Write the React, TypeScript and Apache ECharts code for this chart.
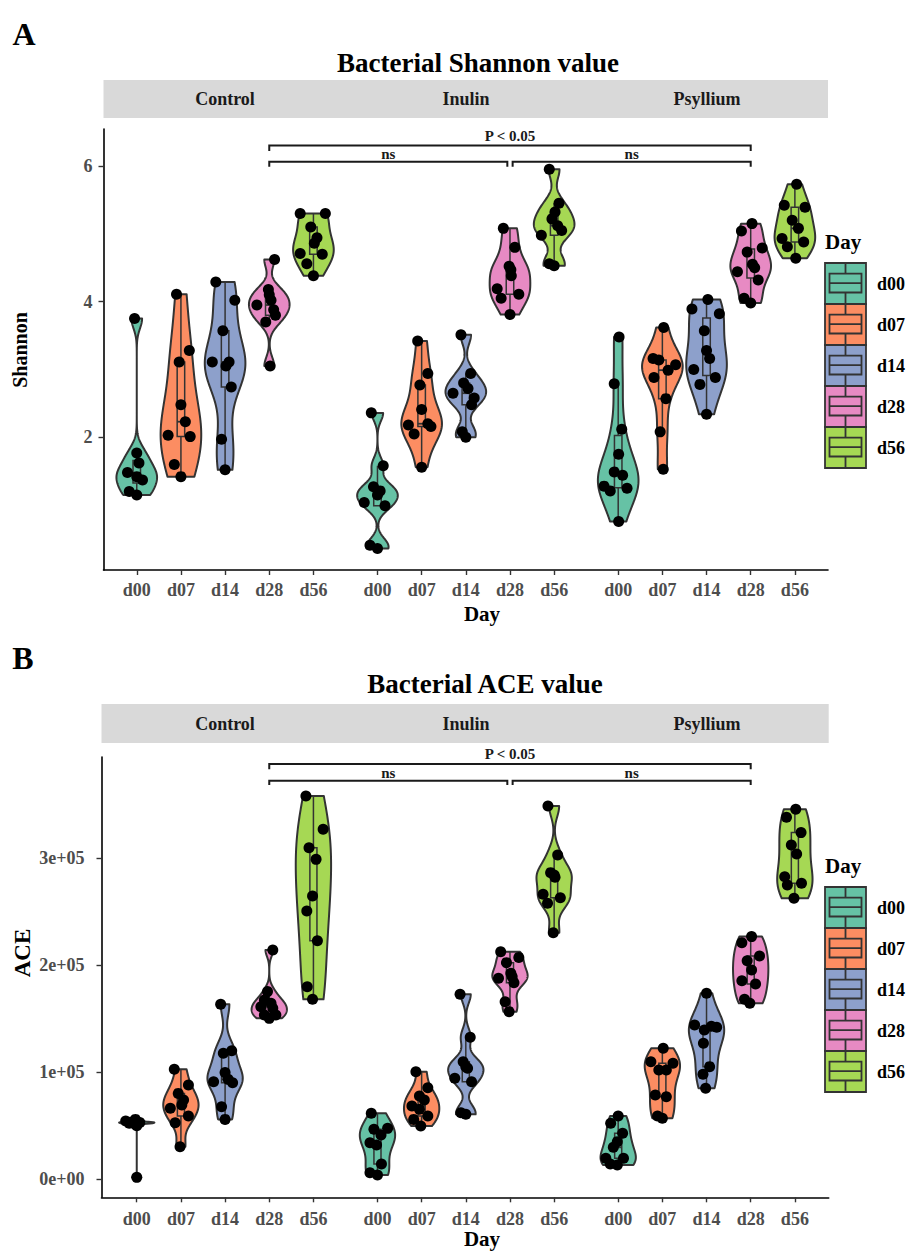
import React, { useEffect, useRef } from "react";
import * as echarts from "echarts";

// ---------- categories ----------
const DAYS = ["d00", "d07", "d14", "d28", "d56"];
const GROUPS = ["Control", "Inulin", "Psyllium"];
const DAY_COLORS = ["#66C2A5", "#FC8D62", "#8DA0CB", "#E78AC3", "#A6D854"];

// ---------- data: [value, horizontal jitter (category units)] ----------
type Pt = [number, number];

const shannonControl: Pt[][] = [
  [[3.75, -0.05], [1.77, 0.0], [1.62, 0.05], [1.48, -0.21], [1.42, 0.0], [1.37, 0.13], [1.2, -0.17], [1.15, 0.0]],
  [[4.11, -0.1], [3.28, 0.19], [3.11, -0.04], [2.48, 0.0], [2.23, 0.1], [2.03, -0.29], [2.01, 0.21], [1.6, -0.15], [1.42, 0.0]],
  [[4.29, -0.21], [4.02, 0.22], [3.57, -0.05], [3.11, -0.29], [3.11, 0.09], [3.05, 0.02], [2.74, 0.14], [1.97, -0.08], [1.52, 0.0]],
  [[4.62, 0.12], [4.18, -0.02], [4.1, 0.0], [4.02, 0.04], [3.95, -0.28], [3.88, 0.1], [3.8, 0.14], [3.7, -0.08], [3.05, 0.02]],
  [[5.3, -0.3], [5.3, 0.27], [5.1, -0.06], [4.94, 0.08], [4.86, 0.02], [4.71, -0.3], [4.7, 0.2], [4.56, -0.15], [4.38, 0.0]],
];
const shannonInulin: Pt[][] = [
  [[2.36, -0.14], [1.58, 0.13], [1.27, -0.09], [1.21, 0.06], [1.15, 0.0], [1.04, -0.3], [0.99, 0.17], [0.41, -0.17], [0.36, 0.0]],
  [[3.42, -0.09], [2.94, 0.14], [2.77, -0.04], [2.41, 0.0], [2.2, 0.14], [2.18, -0.3], [2.16, 0.21], [2.05, -0.17], [1.56, 0.0]],
  [[3.51, -0.11], [2.94, 0.11], [2.8, -0.05], [2.72, 0.05], [2.65, -0.29], [2.58, 0.19], [2.48, 0.13], [2.08, -0.08], [2.0, 0.0]],
  [[5.08, -0.15], [4.8, 0.11], [4.52, -0.02], [4.47, 0.02], [4.38, 0.03], [4.19, -0.29], [4.11, 0.2], [4.05, -0.2], [3.81, 0.0]],
  [[5.95, -0.11], [5.45, 0.11], [5.32, 0.02], [5.22, -0.05], [5.12, 0.08], [5.05, 0.17], [4.98, -0.29], [4.56, -0.11], [4.53, 0.0]],
];
const shannonPsyllium: Pt[][] = [
  [[3.48, 0.02], [2.79, -0.09], [2.12, 0.08], [1.75, 0.01], [1.49, -0.09], [1.44, 0.1], [1.28, -0.32], [1.25, 0.2], [1.21, -0.18], [0.76, 0.01]],
  [[3.62, 0.03], [3.16, -0.21], [3.14, -0.08], [3.07, 0.3], [2.99, 0.13], [2.88, -0.19], [2.57, 0.08], [2.08, -0.05], [1.53, 0.02]],
  [[4.03, 0.03], [3.89, -0.33], [3.82, 0.29], [3.57, -0.05], [3.28, 0.0], [3.16, 0.07], [3.0, -0.29], [2.88, 0.2], [2.78, -0.15], [2.34, 0.0]],
  [[5.15, 0.03], [5.04, -0.21], [4.79, 0.26], [4.73, -0.08], [4.55, 0.04], [4.5, 0.09], [4.44, -0.3], [4.32, 0.17], [4.05, -0.15], [3.98, 0.0]],
  [[5.73, 0.04], [5.42, -0.24], [5.39, 0.23], [5.2, -0.06], [5.08, 0.08], [4.93, -0.29], [4.88, 0.2], [4.81, -0.17], [4.64, 0.02]],
];

const aceControl: Pt[][] = [
  [[0.56e5, -0.03], [0.545e5, -0.25], [0.535e5, -0.12], [0.53e5, 0.07], [0.53e5, 0.0], [0.525e5, -0.17], [0.52e5, -0.05], [0.5e5, 0.0], [0.018e5, 0.0]],
  [[1.028e5, -0.15], [0.881e5, 0.17], [0.803e5, -0.06], [0.741e5, 0.06], [0.694e5, 0.02], [0.663e5, -0.24], [0.592e5, 0.17], [0.529e5, -0.13], [0.305e5, -0.02]],
  [[1.635e5, -0.1], [1.202e5, 0.15], [1.177e5, -0.04], [0.997e5, 0.0], [0.934e5, 0.07], [0.912e5, -0.26], [0.903e5, 0.17], [0.679e5, -0.08], [0.56e5, 0.0]],
  [[2.143e5, 0.08], [1.754e5, -0.04], [1.676e5, -0.11], [1.645e5, 0.04], [1.613e5, -0.19], [1.598e5, 0.08], [1.536e5, 0.15], [1.536e5, -0.11], [1.504e5, 0.0]],
  [[3.582e5, -0.17], [3.271e5, 0.22], [3.099e5, -0.1], [2.99e5, 0.06], [2.648e5, -0.02], [2.507e5, -0.15], [2.23e5, 0.09], [1.8e5, -0.14], [1.682e5, -0.02]],
];
const aceInulin: Pt[][] = [
  [[0.617e5, -0.14], [0.476e5, 0.23], [0.467e5, -0.08], [0.414e5, 0.08], [0.342e5, -0.17], [0.321e5, -0.02], [0.143e5, 0.09], [0.062e5, -0.17], [0.04e5, 0.0]],
  [[1.006e5, -0.13], [0.856e5, 0.14], [0.779e5, -0.05], [0.741e5, 0.06], [0.685e5, -0.22], [0.654e5, -0.05], [0.592e5, 0.14], [0.56e5, -0.18], [0.498e5, -0.02]],
  [[1.729e5, -0.13], [1.327e5, 0.1], [1.099e5, -0.06], [1.053e5, 0.0], [1.037e5, 0.04], [0.944e5, -0.25], [0.912e5, 0.13], [0.623e5, -0.11], [0.607e5, 0.0]],
  [[2.127e5, -0.21], [2.074e5, 0.2], [2.025e5, -0.08], [1.925e5, 0.02], [1.894e5, 0.05], [1.878e5, -0.26], [1.838e5, 0.09], [1.66e5, -0.11], [1.567e5, -0.02]],
  [[3.489e5, -0.14], [3.031e5, 0.08], [2.866e5, -0.08], [2.844e5, 0.0], [2.822e5, 0.02], [2.663e5, -0.25], [2.632e5, 0.14], [2.579e5, -0.15], [2.305e5, -0.02]],
];
const acePsyllium: Pt[][] = [
  [[0.592e5, 0.0], [0.523e5, -0.17], [0.43e5, 0.1], [0.352e5, -0.02], [0.299e5, -0.11], [0.196e5, -0.28], [0.196e5, 0.12], [0.143e5, -0.18], [0.134e5, -0.02]],
  [[1.224e5, 0.02], [1.099e5, -0.26], [1.084e5, 0.24], [1.022e5, -0.08], [1.022e5, 0.09], [0.788e5, -0.16], [0.772e5, 0.09], [0.592e5, -0.11], [0.57e5, 0.0]],
  [[1.738e5, 0.0], [1.442e5, -0.27], [1.43e5, 0.11], [1.42e5, 0.23], [1.395e5, -0.05], [1.271e5, -0.07], [1.053e5, 0.07], [0.981e5, -0.08], [0.85e5, -0.02]],
  [[2.268e5, 0.02], [2.211e5, -0.2], [2.087e5, 0.2], [2.043e5, -0.08], [1.956e5, 0.02], [1.856e5, -0.2], [1.825e5, 0.11], [1.682e5, -0.14], [1.645e5, -0.02]],
  [[3.458e5, 0.02], [3.383e5, -0.19], [3.24e5, 0.14], [3.124e5, -0.08], [3.04e5, 0.04], [2.828e5, -0.23], [2.766e5, 0.15], [2.75e5, -0.17], [2.626e5, -0.02]],
];

// ---------- ticks ----------
const SHANNON_TICKS = [2, 4, 6];
const ACE_TICKS = [0, 1e5, 2e5, 3e5];

// ---------- significance brackets: from [group, day] to [group, day] ----------
type Bracket = { from: [number, number]; to: [number, number]; y: number; tip: number; label: string; labelY: number };
const shannonBrackets: Bracket[] = [
  { from: [0, 3], to: [2, 3], y: 6.3, tip: 6.22, label: "P < 0.05", labelY: 6.44 },
  { from: [0, 3], to: [1, 3], y: 6.063, tip: 5.99, label: "ns", labelY: 6.18 },
  { from: [1, 3], to: [2, 3], y: 6.063, tip: 5.99, label: "ns", labelY: 6.18 },
];
const aceBrackets: Bracket[] = [
  { from: [0, 3], to: [2, 3], y: 3.881e5, tip: 3.832e5, label: "P < 0.05", labelY: 3.975e5 },
  { from: [0, 3], to: [1, 3], y: 3.725e5, tip: 3.685e5, label: "ns", labelY: 3.8e5 },
  { from: [1, 3], to: [2, 3], y: 3.725e5, tip: 3.685e5, label: "ns", labelY: 3.8e5 },
];

// ---------- layout ----------
const FONT = "'Liberation Serif', 'Times New Roman', serif";
const GROUP_OFFSET = 5.45;
const BRACKET_GAP = 0.06;
const OUTLINE = "#333333";
const xPos = (g: number, d: number) => g * GROUP_OFFSET + d;
const TICK_POS = GROUPS.flatMap((_, g) => DAYS.map((__, d) => xPos(g, d)));
const dayLabelAt = (v: number) => {
  for (let i = 0; i < TICK_POS.length; i++) if (Math.abs(TICK_POS[i] - v) < 0.01) return DAYS[i % DAYS.length];
  return "";
};

function quantile(s: number[], p: number) {
  const h = (s.length - 1) * p;
  const lo = Math.floor(h);
  const hi = Math.min(lo + 1, s.length - 1);
  return s[lo] + (h - lo) * (s[hi] - s[lo]);
}

function violinStats(vals: number[]) {
  const s = [...vals].sort((a, b) => a - b);
  const n = s.length;
  const mean = s.reduce((a, b) => a + b, 0) / n;
  const sd = Math.sqrt(s.reduce((a, b) => a + (b - mean) * (b - mean), 0) / (n - 1));
  const q1 = quantile(s, 0.25);
  const q3 = quantile(s, 0.75);
  const med = quantile(s, 0.5);
  const iqr = q3 - q1;
  let lo = Math.min(sd, iqr / 1.34);
  if (!(lo > 0)) lo = sd || Math.abs(s[0]) || 1;
  const bw = 0.9 * lo * Math.pow(n, -0.2);
  const ys: number[] = [];
  const ws: number[] = [];
  const N = 200;
  for (let i = 0; i < N; i++) {
    const y = s[0] + ((s[n - 1] - s[0]) * i) / (N - 1);
    let d = 0;
    for (const x of s) {
      const z = (y - x) / bw;
      d += Math.exp(-0.5 * z * z);
    }
    ys.push(y);
    ws.push(d);
  }
  const m = Math.max(...ws);
  const wn = ws.map((w) => w / m);
  const wLo = s.find((v) => v >= q1 - 1.5 * iqr) as number;
  const wHi = [...s].reverse().find((v) => v <= q3 + 1.5 * iqr) as number;
  return { ys, ws: wn, q1, q3, med, wLo, wHi };
}

function buildPanel(groups: Pt[][][], gridIndex: number, halfW: number, boxHalf: number, brackets: Bracket[]) {
  const items: any[] = [];
  const points: number[][] = [];
  groups.forEach((days, g) => {
    days.forEach((pts, d) => {
      const x = xPos(g, d);
      const st = violinStats(pts.map((p) => p[0]));
      items.push({ x, color: DAY_COLORS[d], ...st });
      pts.forEach((p) => points.push([x + p[1], p[0]]));
    });
  });
  const line = (x1: number, y1: number, x2: number, y2: number, w: number) => ({
    type: "line",
    shape: { x1, y1, x2, y2 },
    style: { stroke: OUTLINE, lineWidth: w },
  });
  const violins = {
    type: "custom",
    xAxisIndex: gridIndex,
    yAxisIndex: gridIndex,
    silent: true,
    z: 2,
    data: items.map((it) => [it.x, it.med]),
    renderItem: (params: any, api: any) => {
      const it = items[params.dataIndex];
      const pts: number[][] = [];
      for (let i = 0; i < it.ys.length; i++) pts.push(api.coord([it.x - it.ws[i] * halfW, it.ys[i]]));
      for (let i = it.ys.length - 1; i >= 0; i--) pts.push(api.coord([it.x + it.ws[i] * halfW, it.ys[i]]));
      const [bl, bt] = api.coord([it.x - boxHalf, it.q3]);
      const [br, bb] = api.coord([it.x + boxHalf, it.q1]);
      const [cx, yHi] = api.coord([it.x, it.wHi]);
      const yLo = api.coord([it.x, it.wLo])[1];
      const yMed = api.coord([it.x, it.med])[1];
      return {
        type: "group",
        children: [
          { type: "polygon", shape: { points: pts }, style: { fill: it.color, stroke: OUTLINE, lineWidth: 2, lineJoin: "round" } },
          line(cx, yHi, cx, bt, 1.5),
          line(cx, bb, cx, yLo, 1.5),
          { type: "rect", shape: { x: bl, y: bt, width: br - bl, height: bb - bt }, style: { fill: it.color, stroke: OUTLINE, lineWidth: 1.5 } },
          line(bl, yMed, br, yMed, 1.8),
        ],
      };
    },
  };
  const scatter = {
    type: "scatter",
    xAxisIndex: gridIndex,
    yAxisIndex: gridIndex,
    silent: true,
    z: 3,
    symbol: "circle",
    symbolSize: 11,
    itemStyle: { color: "#000000", opacity: 1 },
    data: points,
  };
  const bracketSeries = {
    type: "custom",
    xAxisIndex: gridIndex,
    yAxisIndex: gridIndex,
    silent: true,
    clip: false,
    z: 4,
    data: brackets.map((b) => [xPos(b.from[0], b.from[1]), b.y]),
    renderItem: (params: any, api: any) => {
      const b = brackets[params.dataIndex];
      let x1 = xPos(b.from[0], b.from[1]);
      let x2 = xPos(b.to[0], b.to[1]);
      if (b.from[0] === 1) x1 += BRACKET_GAP;
      if (b.to[0] === 1) x2 -= BRACKET_GAP;
      const p1 = api.coord([x1, b.tip]);
      const p2 = api.coord([x1, b.y]);
      const p3 = api.coord([x2, b.y]);
      const p4 = api.coord([x2, b.tip]);
      const t = api.coord([(x1 + x2) / 2, b.labelY]);
      return {
        type: "group",
        children: [
          { type: "polyline", shape: { points: [p1, p2, p3, p4] }, style: { stroke: "#1a1a1a", lineWidth: 2, fill: "none" } },
          {
            type: "text",
            x: t[0],
            y: t[1],
            style: {
              text: b.label,
              fill: "#1a1a1a",
              font: `bold 15px ${FONT}`,
              textAlign: "center",
              textVerticalAlign: "middle",
              align: "center",
              verticalAlign: "middle",
            },
          },
        ],
      };
    },
  };
  return [violins, scatter, bracketSeries];
}

function mkXAxis(gridIndex: number, min: number, max: number, margin: number) {
  return {
    type: "value",
    gridIndex,
    min,
    max,
    splitLine: { show: false },
    axisLine: { show: true, onZero: false, lineStyle: { color: "#000000", width: 1.6 } },
    axisTick: { show: true, customValues: TICK_POS, length: 5, lineStyle: { color: "#333333", width: 1.4 } },
    axisLabel: {
      show: true,
      customValues: TICK_POS,
      formatter: (v: number) => dayLabelAt(v),
      margin,
      color: "#4D4D4D",
      fontFamily: FONT,
      fontWeight: "bold",
      fontSize: 18,
    },
  };
}

function mkYAxis(gridIndex: number, min: number, max: number, ticks: number[], fmt: (v: number) => string, margin: number) {
  return {
    type: "value",
    gridIndex,
    min,
    max,
    splitLine: { show: false },
    axisLine: { show: true, onZero: false, lineStyle: { color: "#000000", width: 1.6 } },
    axisTick: { show: true, customValues: ticks, length: 5, lineStyle: { color: "#333333", width: 1.4 } },
    axisLabel: {
      show: true,
      customValues: ticks,
      formatter: fmt,
      margin,
      color: "#4D4D4D",
      fontFamily: FONT,
      fontWeight: "bold",
      fontSize: 18,
    },
  };
}

const sci = (v: number) => (v === 0 ? "0e+00" : `${Math.round(v / 1e5)}e+05`);

function txt(x: number, y: number, text: string, size: number, opts: any = {}) {
  return {
    type: "text",
    x,
    y,
    rotation: opts.rotation || 0,
    silent: true,
    style: {
      text,
      fill: opts.color || "#000000",
      font: `bold ${size}px ${FONT}`,
      textAlign: opts.align || "center",
      textVerticalAlign: "middle",
      align: opts.align || "center",
      verticalAlign: "middle",
    },
  };
}

function legend(top: number, titleY: number) {
  const els: any[] = [txt(825, titleY, "Day", 21, { align: "left" })];
  const L = 825;
  const S = 41;
  DAYS.forEach((d, i) => {
    const T = top + i * S;
    const c = DAY_COLORS[i];
    const st = { stroke: OUTLINE, lineWidth: 1.8 };
    els.push({ type: "rect", silent: true, shape: { x: L, y: T, width: S, height: S }, style: { fill: c, ...st } });
    els.push({ type: "line", silent: true, shape: { x1: L + S / 2, y1: T, x2: L + S / 2, y2: T + S * 0.26 }, style: st });
    els.push({ type: "line", silent: true, shape: { x1: L + S / 2, y1: T + S * 0.72, x2: L + S / 2, y2: T + S }, style: st });
    els.push({ type: "rect", silent: true, shape: { x: L + 4.5, y: T + S * 0.26, width: S - 9, height: S * 0.46 }, style: { fill: c, ...st } });
    els.push({ type: "line", silent: true, shape: { x1: L + 4.5, y1: T + S * 0.49, x2: L + S - 4.5, y2: T + S * 0.49 }, style: st });
    els.push(txt(877, T + S / 2, d, 18, { align: "left" }));
  });
  return els;
}

function strip(x: number, y: number, w: number, h: number, centers: number[]) {
  const els: any[] = [{ type: "rect", silent: true, shape: { x, y, width: w, height: h }, style: { fill: "#D9D9D9" } }];
  GROUPS.forEach((g, i) => els.push(txt(centers[i], y + h / 2, g, 18, { color: "#1A1A1A" })));
  return els;
}

export default function App() {
  const ref = useRef<HTMLDivElement>(null);
  useEffect(() => {
    if (!ref.current) return;
    const chart = echarts.init(ref.current, undefined, { renderer: "svg" });
    const seriesA = buildPanel([shannonControl, shannonInulin, shannonPsyllium], 0, 0.46, 0.085, shannonBrackets);
    const seriesB = buildPanel([aceControl, aceInulin, acePsyllium], 1, 0.4, 0.08, aceBrackets);
    const graphic: any[] = [
      txt(24, 34, "A", 32),
      txt(478, 63, "Bacterial Shannon value", 27),
      ...strip(103.5, 80, 724.5, 38, [225, 466, 707]),
      txt(482, 614, "Day", 21),
      txt(20, 350, "Shannon", 20, { rotation: Math.PI / 2 }),
      ...legend(263, 242),
      txt(23, 658, "B", 32),
      txt(485, 684, "Bacterial ACE value", 27),
      ...strip(101.5, 704, 727.2, 39, [225, 466, 707]),
      txt(482, 1239, "Day", 21),
      txt(22, 953, "ACE", 23, { rotation: Math.PI / 2 }),
      ...legend(887, 866),
    ];
    chart.setOption({
      animation: false,
      backgroundColor: "#ffffff",
      grid: [
        { left: 103.5, top: 129, width: 724.5, height: 441 },
        { left: 101.5, top: 757, width: 727.2, height: 440.3 },
      ],
      xAxis: [mkXAxis(0, -0.753, 15.65, 11), mkXAxis(1, -0.798, 15.666, 13)],
      yAxis: [
        mkYAxis(0, 0.0436, 6.545, SHANNON_TICKS, (v: number) => String(Math.round(v)), 11),
        mkYAxis(1, -16822, 394673, ACE_TICKS, sci, 17),
      ],
      series: [...seriesA, ...seriesB],
      graphic,
    });
    return () => chart.dispose();
  }, []);
  return <div ref={ref} style={{ position: "absolute", left: 0, top: 0, width: 909, height: 1251 }} />;
}
